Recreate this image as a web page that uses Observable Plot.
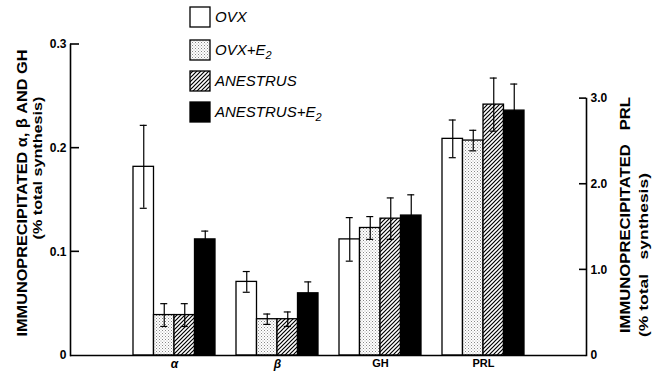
<!DOCTYPE html>
<html><head><meta charset="utf-8">
<script src="https://cdn.jsdelivr.net/npm/d3@7"></script>
<script src="https://cdn.jsdelivr.net/npm/@observablehq/plot@0.6"></script>
<style>body{margin:0;background:#fff;} #chart{position:relative;width:652px;height:374px;}</style>
</head><body><div id="chart"></div>
<script>
// ---- data ----
const groups = ["α", "β", "GH", "PRL"];
const series = ["OVX", "OVX+E2", "ANESTRUS", "ANESTRUS+E2"];
// means (α, β, GH on left axis; PRL on right axis)
const ovxMean      = [0.182, 0.071, 0.112, 2.53];
const ovxE2Mean    = [0.039, 0.035, 0.123, 2.51];
const anesMean     = [0.039, 0.035, 0.132, 2.93];
const anesE2Mean   = [0.112, 0.060, 0.135, 2.86];
// error half-widths
const ovxErr       = [0.040, 0.010, 0.021, 0.22];
const ovxE2Err     = [0.011, 0.005, 0.011, 0.12];
const anesErr      = [0.011, 0.007, 0.020, 0.31];
const anesE2Err    = [0.008, 0.011, 0.020, 0.31];
const leftTicks = [0, 0.1, 0.2, 0.3];
const rightTicks = [0, 1, 2, 3];
const prlUnit = 0.0826; // one right-axis unit (PRL) expressed in left-axis units

const means = [ovxMean, ovxE2Mean, anesMean, anesE2Mean];
const errs = [ovxErr, ovxE2Err, anesErr, anesE2Err];
const rows = [];
series.forEach((s, si) => groups.forEach((g, gi) => {
  const f = g === "PRL" ? prlUnit : 1;
  const v = means[si][gi] * f, e = errs[si][gi] * f;
  rows.push({series: s, si, group: g, value: v, lo: v - e, hi: v + e});
}));

const font = "'Liberation Sans', Arial, Helvetica, sans-serif";
const common = {
  width: 652, height: 374,
  marginLeft: 70, marginRight: 66, marginTop: 44, marginBottom: 19,
  x: {type: "band", domain: groups, paddingInner: 0.208, paddingOuter: 0.594},
  y: {domain: [0, 0.3]},
  style: {fontFamily: font, background: "white", color: "black", overflow: "visible"}
};
const pre = Plot.plot({...common, marks: [Plot.barY(rows, {x: "group", y: "value"})]});
const xS = pre.scale("x");
const bw = xS.bandwidth;
const yS = pre.scale("y");
const w = bw / 4;
const cap = 7;
const tickLenL = 9, tickLenR = 7;

const fills = ["white", "url(#dots)", "url(#hatch)", "black"];
const marks = [];
series.forEach((s, i) => {
  const d = rows.filter(r => r.si === i);
  marks.push(Plot.barY(d, {x: "group", y: "value", fill: fills[i], stroke: "black", strokeWidth: 1.3,
    insetLeft: i * w, insetRight: (3 - i) * w}));
});
series.forEach((s, i) => {
  const d = rows.filter(r => r.si === i);
  const off = (i - 1.5) * w;
  marks.push(Plot.ruleX(d, {x: "group", y1: "lo", y2: "hi", dx: off, stroke: "black", strokeWidth: 1.2}));
  const il = i * w + (w - cap) / 2, ir = (3 - i) * w + (w - cap) / 2;
  marks.push(Plot.tickY(d, {x: "group", y: "hi", insetLeft: il, insetRight: ir, stroke: "black", strokeWidth: 1.2}));
  marks.push(Plot.tickY(d, {x: "group", y: "lo", insetLeft: il, insetRight: ir, stroke: "black", strokeWidth: 1.2}));
});
const topInset = yS.apply(3 * prlUnit) - yS.apply(0.3);
const rightTickVals = rightTicks.map(r => r * prlUnit);
marks.push(
  Plot.frame({anchor: "left", strokeWidth: 1.6}),
  Plot.ruleY([0], {strokeWidth: 1.6}),
  Plot.frame({anchor: "right", insetTop: topInset, strokeWidth: 1.6}),
  Plot.axisY({anchor: "left", ticks: leftTicks, tickFormat: d => d === 0 ? "0" : d.toFixed(1),
    tickSize: 0, tickPadding: 4, fontSize: 12, fontWeight: "bold", label: null}),
  Plot.axisY({anchor: "right", ticks: rightTickVals,
    tickFormat: d => { const r = Math.round(d / prlUnit); return r === 0 ? "0" : r.toFixed(1); },
    tickSize: 0, tickPadding: 4, fontSize: 12, fontWeight: "bold", label: null}),
  Plot.axisX({ticks: ["α", "β"], tickSize: 0, tickPadding: 4, fontSize: 12, fontStyle: "italic", fontWeight: "bold", label: null}),
  Plot.axisX({ticks: ["GH", "PRL"], tickSize: 0, tickPadding: 4, fontSize: 11, fontWeight: "bold", label: null})
);

const plot = Plot.plot({...common, marks});
const svg = d3.select(plot);
const defs = svg.insert("defs", ":first-child");
const dots = defs.append("pattern").attr("id", "dots").attr("patternUnits", "userSpaceOnUse")
  .attr("width", 3).attr("height", 3);
dots.append("rect").attr("width", 3).attr("height", 3).attr("fill", "white");
dots.append("rect").attr("x", 0).attr("y", 0).attr("width", 1).attr("height", 1).attr("fill", "#888");
dots.append("rect").attr("x", 1.5).attr("y", 1.5).attr("width", 1).attr("height", 1).attr("fill", "#aaa");
const hatch = defs.append("pattern").attr("id", "hatch").attr("patternUnits", "userSpaceOnUse")
  .attr("width", 4).attr("height", 4);
hatch.append("rect").attr("width", 4).attr("height", 4).attr("fill", "white");
hatch.append("path").attr("d", "M-1,1 L1,-1 M0,4 L4,0 M3,5 L5,3").attr("stroke", "black").attr("stroke-width", 1.2);

// inward tick marks placed with the plot's own y scale
const xL = common.marginLeft, xR = common.width - common.marginRight;
const tg = svg.append("g").attr("stroke", "black").attr("stroke-width", 1.6);
leftTicks.slice(1).forEach(v => {
  const y = yS.apply(v);
  tg.append("line").attr("x1", xL).attr("x2", xL + tickLenL).attr("y1", y).attr("y2", y);
});
rightTickVals.slice(1).forEach(v => {
  const y = yS.apply(v);
  tg.append("line").attr("x1", xR - tickLenR).attr("x2", xR).attr("y1", y).attr("y2", y);
});

// axis titles
function vtext(x, y, txt, size, len) {
  svg.append("text").attr("transform", `translate(${x},${y}) rotate(-90)`)
    .attr("text-anchor", "middle").attr("dy", "0.35em")
    .attr("font-family", font).attr("font-weight", "bold").attr("font-size", size)
    .attr("textLength", len).attr("lengthAdjust", "spacingAndGlyphs")
    .style("white-space", "pre").text(txt);
}
vtext(22, 193, "IMMUNOPRECIPITATED α, β AND GH", 14, 287);
vtext(37, 168, "(% total synthesis)", 13, 143);
vtext(625, 215, "IMMUNOPRECIPITATED   PRL", 14, 236);
vtext(643, 255, "(% total   synthesis)", 13, 164);

// legend
const legY = [17, 50, 81, 112];
const lg = svg.append("g").attr("text-anchor", "start");
series.forEach((s, i) => {
  lg.append("rect").attr("x", 190).attr("y", legY[i] - 10).attr("width", 20).attr("height", 20)
    .attr("fill", fills[i]).attr("stroke", "black").attr("stroke-width", 1.3);
  const t = lg.append("text").attr("x", 215).attr("y", legY[i]).attr("dy", "0.35em")
    .attr("text-anchor", "start")
    .attr("font-family", font).attr("font-style", "italic").attr("font-size", 15);
  const base = s.replace("E2", "E");
  t.append("tspan").text(base);
  if (s.endsWith("E2")) t.append("tspan").attr("font-size", 11).attr("dy", 4).text("2");
});

document.getElementById("chart").appendChild(plot);
</script>
</body></html>
